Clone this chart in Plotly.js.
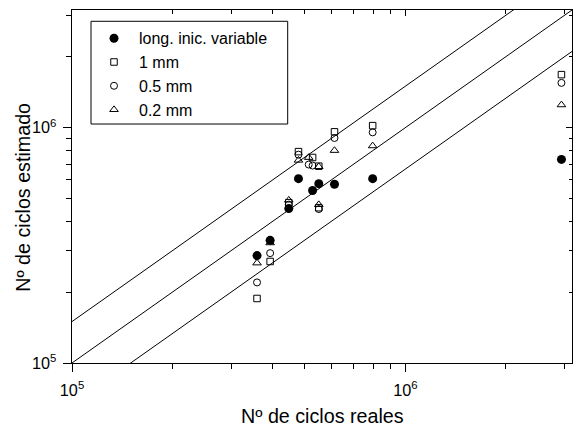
<!DOCTYPE html>
<html>
<head>
<meta charset="utf-8">
<script src="https://cdn.plot.ly/plotly-3.0.1.min.js"></script>
<style>html,body{margin:0;padding:0;background:#fff;}#chart{width:573px;height:427px;}</style>
</head>
<body>
<div id="chart"></div>
<script>
// Data (Nº de ciclos reales vs Nº de ciclos estimado)
var seriesNames = ["long. inic. variable", "1 mm", "0.5 mm", "0.2 mm"];

var xVariable = [3.59e5, 3.93e5, 4.47e5, 4.78e5, 5.27e5, 5.50e5, 6.13e5, 7.98e5, 2.94e6];
var yVariable = [2.86e5, 3.32e5, 4.53e5, 6.07e5, 5.41e5, 5.78e5, 5.75e5, 6.07e5, 7.33e5];

var x1mm = [3.59e5, 3.93e5, 4.47e5, 4.78e5, 5.27e5, 5.50e5, 5.50e5, 6.13e5, 7.98e5, 2.94e6];
var y1mm = [1.88e5, 2.70e5, 4.80e5, 7.91e5, 7.47e5, 6.86e5, 4.57e5, 9.60e5, 1.02e6, 1.68e6];

var x05mm = [3.59e5, 3.93e5, 4.47e5, 4.78e5, 5.13e5, 5.27e5, 5.50e5, 6.13e5, 7.98e5, 2.94e6];
var y05mm = [2.20e5, 2.93e5, 4.71e5, 7.68e5, 6.97e5, 6.90e5, 4.51e5, 9.04e5, 9.55e5, 1.55e6];

var x02mm = [3.59e5, 3.93e5, 4.47e5, 4.78e5, 5.13e5, 5.50e5, 5.50e5, 6.13e5, 7.98e5, 2.94e6];
var y02mm = [2.66e5, 3.24e5, 4.92e5, 7.27e5, 7.47e5, 6.83e5, 4.71e5, 8.00e5, 8.37e5, 1.25e6];

// scatter band: y = x, y = 1.5x, y = x/1.5
var bandFactors = [1.5, 1, 1 / 1.5];
var axisRangeLog = [5, 6.5];

var FONT = "Arial, Liberation Sans, sans-serif";
var lineX = [Math.pow(10, axisRangeLog[0]), Math.pow(10, axisRangeLog[1])];

var traces = bandFactors.map(function (f) {
  return {
    x: lineX, y: lineX.map(function (v) { return v * f; }),
    mode: "lines", line: {color: "#000", width: 1}, showlegend: false, hoverinfo: "skip"
  };
});

traces.push({x: xVariable, y: yVariable, name: seriesNames[0], mode: "markers",
  marker: {symbol: "circle", size: 9, color: "#000"}});
traces.push({x: x1mm, y: y1mm, name: seriesNames[1], mode: "markers",
  marker: {symbol: "square-open", size: 6.5, color: "#000", line: {width: 1}}});
traces.push({x: x05mm, y: y05mm, name: seriesNames[2], mode: "markers",
  marker: {symbol: "circle-open", size: 7, color: "#000", line: {width: 1}}});
traces.push({x: x02mm, y: y02mm, name: seriesNames[3], mode: "markers",
  marker: {symbol: "triangle-up-open", size: 7.5, color: "#000", line: {width: 1}}});
// empty trace to activate the mirrored (inside-tick) axes
traces.push({x: [], y: [], xaxis: "x2", yaxis: "y2", showlegend: false, hoverinfo: "skip", mode: "markers"});

var baseAxis = {
  type: "log", range: axisRangeLog, dtick: 1, tick0: 0,
  exponentformat: "power", showgrid: false, zeroline: false,
  showline: true, linecolor: "#000", linewidth: 1,
  ticks: "outside", ticklen: 8, tickwidth: 1, tickcolor: "#000",
  tickfont: {family: FONT, size: 13, color: "#000"},
  minor: {dtick: "D1", ticks: "outside", ticklen: 5, tickwidth: 1, tickcolor: "#000", showgrid: false}
};
function clone(o) { return JSON.parse(JSON.stringify(o)); }

var xaxis = clone(baseAxis); xaxis.mirror = true; xaxis.ticklabelstandoff = 5;
var yaxis = clone(baseAxis); yaxis.mirror = true; yaxis.ticklabelstandoff = 4;

var xaxis2 = clone(baseAxis);
xaxis2.overlaying = "x"; xaxis2.side = "top"; xaxis2.anchor = "y2";
xaxis2.ticks = "inside"; xaxis2.ticklen = 6; xaxis2.minor.ticks = "inside"; xaxis2.minor.ticklen = 4;
xaxis2.showticklabels = false;
var yaxis2 = clone(baseAxis);
yaxis2.overlaying = "y"; yaxis2.side = "right"; yaxis2.anchor = "x2";
yaxis2.ticks = "inside"; yaxis2.ticklen = 6; yaxis2.minor.ticks = "inside"; yaxis2.minor.ticklen = 3;
yaxis2.showticklabels = false;

var layout = {
  width: 573, height: 427,
  margin: {l: 72, r: 1, t: 10, b: 64},
  paper_bgcolor: "#fff", plot_bgcolor: "#fff",
  font: {family: FONT, color: "#000"},
  xaxis: xaxis, yaxis: yaxis, xaxis2: xaxis2, yaxis2: yaxis2,
  showlegend: true,
  legend: {
    x: 0.034, y: 0.968, xanchor: "left", yanchor: "top",
    bgcolor: "rgba(0,0,0,0)", borderwidth: 0, itemwidth: 40,
    font: {family: FONT, size: 16, color: "#000"}
  },
  shapes: [{
    type: "rect", xref: "paper", yref: "paper",
    x0: 0.038, x1: 0.4314, y0: 0.677, y1: 0.968,
    line: {color: "#000", width: 1}, fillcolor: "#fff", layer: "below"
  }],
  annotations: [
    {text: "Nº de ciclos reales", xref: "paper", yref: "paper", x: 0.5, y: -0.149,
     xanchor: "center", yanchor: "middle", showarrow: false,
     font: {family: FONT, size: 19.7, color: "#000"}},
    {text: "Nº de ciclos estimado", xref: "paper", yref: "paper", x: -0.098, y: 0.468,
     xanchor: "center", yanchor: "middle", showarrow: false, textangle: -90,
     font: {family: FONT, size: 19.7, color: "#000"}}
  ]
};

Plotly.newPlot("chart", traces, layout, {displayModeBar: false, staticPlot: true});
</script>
</body>
</html>
